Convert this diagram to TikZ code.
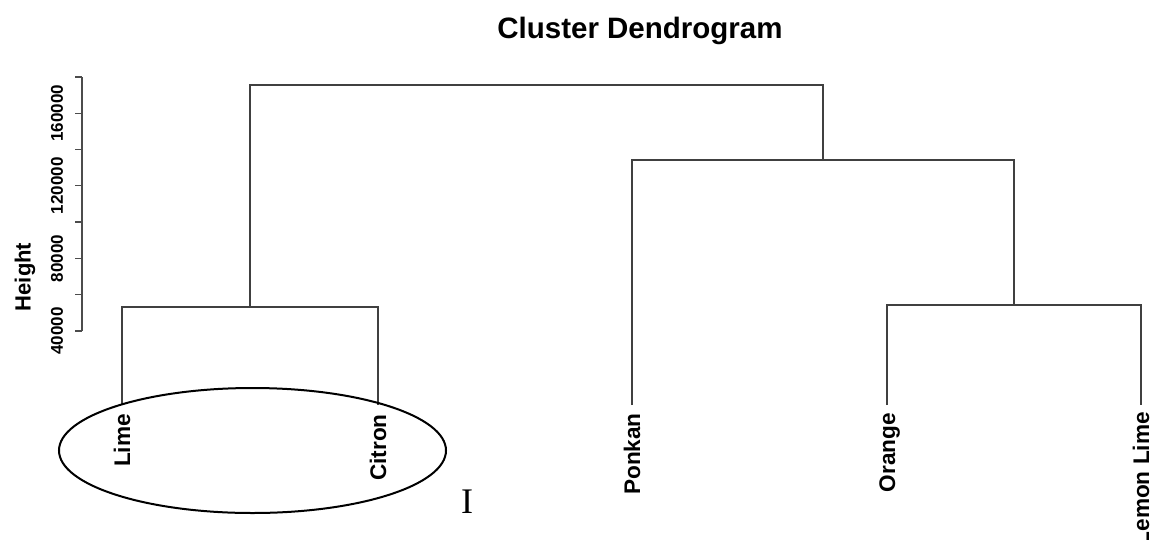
\documentclass[tikz,border=0pt]{standalone}
\usepackage{fontspec}
\setmainfont{Liberation Sans}
\newfontfamily\serifI{Liberation Serif}
\begin{document}
\begin{tikzpicture}[x=1pt,y=-1pt,
  tree/.style={draw=black!75,line width=1.1pt},
  axisline/.style={draw=black!70,line width=1.3pt},
  leaflab/.style={rotate=90,anchor=east,inner sep=0pt,font=\bfseries\fontsize{22.6}{22.6}\selectfont,text height=16pt,text depth=0pt},
  ticklab/.style={rotate=90,anchor=center,inner sep=0pt,font=\bfseries\fontsize{17}{17}\selectfont}]
\useasboundingbox (0,0) rectangle (1152,539);
% title
\node[font=\bfseries\fontsize{29.5}{29.5}\selectfont,anchor=base] (title) at (640,38) {Cluster Dendrogram};
% y axis
\coordinate (ax0) at (82,331);
\coordinate (ax1) at (82,77);
\draw[axisline] (ax0) -- (ax1);
\foreach \i in {0,...,7}{
  \draw[axisline] (82,331-\i*36.29) -- (75,331-\i*36.29);
}
\node[ticklab] (t40) at (57,331) {40000};
\node[ticklab] (t80) at (57,258.4) {80000};
\node[ticklab] (t120) at (57,185.8) {120000};
\node[ticklab] (t160) at (57,113.3) {160000};
\node[rotate=90,font=\bfseries\fontsize{22}{22}\selectfont,inner sep=0pt] (ylab) at (25,277) {Height};
% leaves
\coordinate (lime) at (122,405);
\coordinate (citron) at (378,405);
\coordinate (ponkan) at (632,405);
\coordinate (orange) at (887,405);
\coordinate (lemonlime) at (1141,405);
\node[leaflab] (llime) at (122,414) {Lime};
\node[leaflab] (lcitron) at (378,414) {Citron};
\node[leaflab] (lponkan) at (632,413) {Ponkan};
\node[leaflab] (lorange) at (887,413) {Orange};
\node[leaflab] (llemon) at (1141,412) {Lemon Lime};
% merges
\coordinate (m1) at (250,307);
\coordinate (m2) at (1014,305);
\coordinate (m3) at (823,160);
\coordinate (m4) at (537,85);
\draw[tree] (lime) |- (m1) -| (citron);
\draw[tree] (orange) |- (m2) -| (lemonlime);
\draw[tree] (ponkan) |- (m3) -| (m2);
\draw[tree] (m1) |- (m4) -| (m3);
% annotation
\draw[line width=2pt] (252.5,450.5) ellipse [x radius=193.5, y radius=62.5];
\node[font=\serifI\fontsize{36}{36}\selectfont,inner sep=0pt] (mark) at (467,502) {I};
\end{tikzpicture}
\end{document}
